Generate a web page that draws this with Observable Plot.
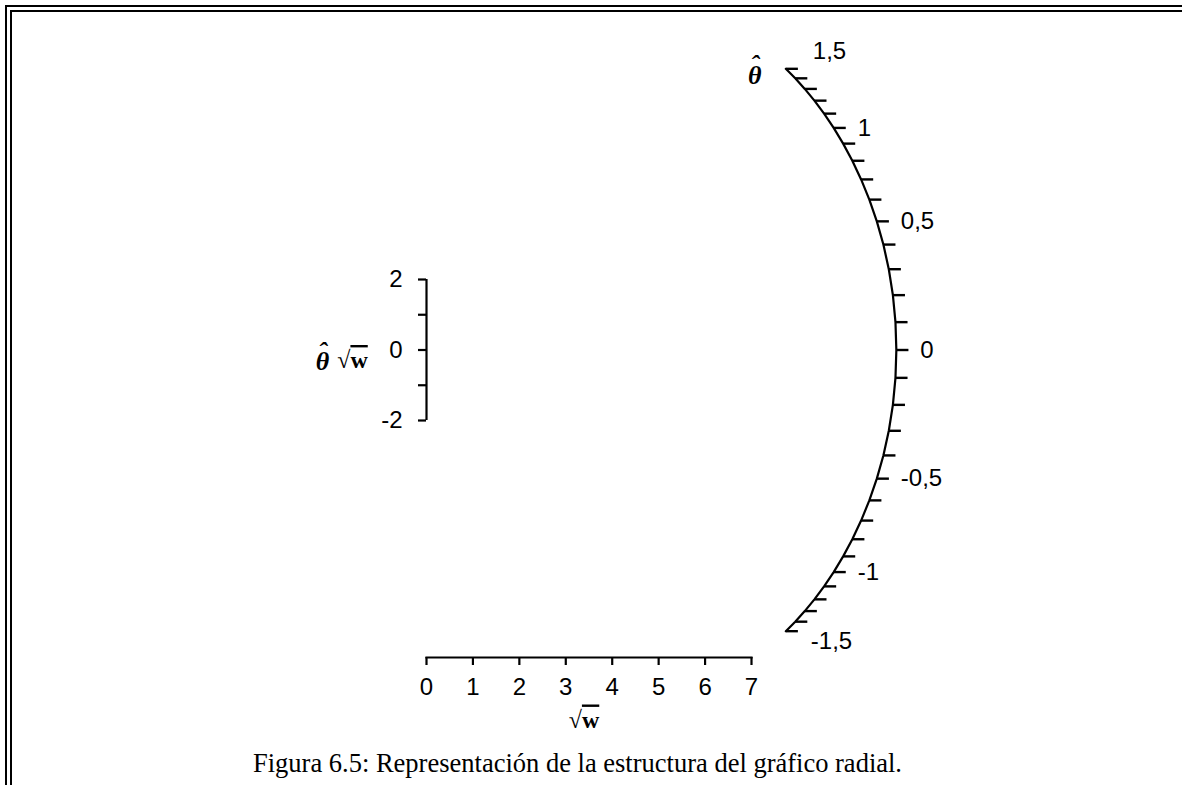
<!DOCTYPE html>
<html>
<head>
<meta charset="utf-8">
<script src="https://cdn.jsdelivr.net/npm/d3@7"></script>
<script src="https://cdn.jsdelivr.net/npm/@observablehq/plot@0.6"></script>
<style>
  html, body { margin: 0; padding: 0; background: #fff; }
  body { width: 1182px; height: 785px; position: relative; overflow: hidden; color: #000; }
  #border { position: absolute; left: 5px; top: 5px; width: 1300px; height: 900px;
            border-top: 7px double #000; border-left: 7px double #000; }
  #chart { position: absolute; left: 0; top: 0; }
  #caption { position: absolute; left: 0; top: 750px; width: 1155px; text-align: center;
             font-family: "Liberation Serif", "Times New Roman", serif; font-size: 26.5px;
             line-height: 26.5px; white-space: nowrap; }
</style>
</head>
<body>
<div id="border"></div>
<div id="chart"></div>
<div id="caption"></div>
<script>
// Horizontal axis: precision √w
const sqrtWTicks = [0, 1, 2, 3, 4, 5, 6, 7];
// Vertical axis: standardised estimate θ̂·√w
const zTicks = [-2, -1, 0, 1, 2];
const zLabels = [-2, 0, 2];
// Radial scale of the estimate θ̂ (labelled and minor ticks)
const thetaMajor = [-1.5, -1, -0.5, 0, 0.5, 1, 1.5];
const thetaMinor = [-1.5, -1.4, -1.3, -1.2, -1.1, -1, -0.9, -0.8, -0.7, -0.6, -0.5, -0.4, -0.3, -0.2, -0.1,
                    0, 0.1, 0.2, 0.3, 0.4, 0.5, 0.6, 0.7, 0.8, 0.9, 1, 1.1, 1.2, 1.3, 1.4, 1.5];
const captionText = "Figura 6.5: Representación de la estructura del gráfico radial.";

// Geometry of the θ̂ arc, expressed in √w units
const arcRadius = 10.12;   // distance of the arc from the origin
const arcShrink = 0.13;    // slight pull-in of the arc towards its ends
const arcGain = 0.6;       // slope of the ray per unit of θ̂
const arcDamp = 0.1;       // compression of the ray slope for large |θ̂|
const yPerX = 1.317;       // screen length of one √w unit over one θ̂√w unit
const tickLen = 0.26;      // length of the arc ticks, √w units

function arcPoint(t) {
  const phi = Math.atan(arcGain * t / (1 + arcDamp * Math.abs(t)));
  const r = arcRadius - arcShrink * t * t;
  return {theta: t, x: r * Math.cos(phi), y: r * Math.sin(phi) * yPerX};
}
const arcPts = thetaMinor.map(arcPoint);
const fmtTheta = t => String(t).replace(".", ",");
const midLabels = thetaMajor.filter(t => Math.abs(t) < 1.5).map(arcPoint);
const topLabel = [arcPoint(thetaMajor[thetaMajor.length - 1])];
const bottomLabel = [arcPoint(thetaMajor[0])];

const sans = "'Liberation Sans', Arial, Helvetica, sans-serif";
const serif = "'Liberation Serif', 'Times New Roman', serif";
const tickFont = 24;
const thetaHat = "ˆ\nθ";   // circumflex stacked over theta

const plot = Plot.plot({
  width: 1182,
  height: 745,
  marginLeft: 426,
  marginRight: 431,
  marginTop: 20,
  marginBottom: 88,
  x: {domain: [0, 7]},
  y: {domain: [-2, 2], range: [420, 279]},
  style: {fontFamily: sans, fontSize: tickFont + "px", color: "#000", background: "transparent", overflow: "visible"},
  marks: [
    // √w axis
    Plot.frame({anchor: "bottom", strokeWidth: 2.2}),
    Plot.axisX({ticks: sqrtWTicks, tickSize: 8, tickPadding: 12, strokeWidth: 2.2,
                fontSize: tickFont, label: null, tickFormat: d => String(d)}),
    // θ̂√w axis
    Plot.ruleX([0], {y1: -2, y2: 2, strokeWidth: 2.2}),
    Plot.axisY({ticks: zTicks, tickSize: 8, tickPadding: 16, strokeWidth: 2.2, fontSize: tickFont,
                label: null, tickFormat: d => zLabels.includes(d) ? String(d) : ""}),
    // θ̂ arc and its ticks
    Plot.line(arcPts, {x: "x", y: "y", strokeWidth: 2.2, curve: "linear"}),
    Plot.link(arcPts, {x1: "x", y1: "y", x2: d => d.x + tickLen, y2: "y", strokeWidth: 2.4}),
    Plot.text(midLabels, {x: "x", y: "y", text: d => fmtTheta(d.theta), dx: 24, textAnchor: "start", fontSize: tickFont}),
    Plot.text(topLabel, {x: "x", y: "y", text: d => fmtTheta(d.theta), dx: 27, dy: -18, textAnchor: "start", fontSize: tickFont}),
    Plot.text(bottomLabel, {x: "x", y: "y", text: d => fmtTheta(d.theta), dx: 25, dy: 10, textAnchor: "start", fontSize: tickFont}),
    // θ̂ title at the upper end of the arc
    Plot.text(topLabel, {x: "x", y: "y", text: () => thetaHat, dx: -31, dy: 15, lineAnchor: "bottom",
                         lineHeight: 0.4, textAnchor: "middle", fontFamily: serif,
                         fontWeight: "bold", fontStyle: "italic", fontSize: 26}),
    // θ̂√w title
    Plot.text([0], {frameAnchor: "left", y: d => d, text: () => thetaHat, dx: -104, dy: 20, lineAnchor: "bottom",
                    lineHeight: 0.4, textAnchor: "middle", fontFamily: serif,
                    fontWeight: "bold", fontStyle: "italic", fontSize: 26}),
    Plot.text([0], {frameAnchor: "left", y: d => d, text: () => "√w", dx: -74, dy: 18, lineAnchor: "bottom",
                    textAnchor: "middle", fontFamily: serif, fontSize: 24}),
    // √w title
    Plot.text([0], {frameAnchor: "bottom", text: () => "√w", dx: -5, dy: 70, lineAnchor: "bottom",
                    textAnchor: "middle", fontFamily: serif, fontSize: 24})
  ]
});

// Radical signs: bold w under an overline
d3.select(plot).selectAll("text").filter(function() { return this.textContent === "√w"; })
  .each(function() {
    const t = d3.select(this);
    t.text(null);
    t.append("tspan").text("√");
    t.append("tspan").attr("font-weight", "bold").style("text-decoration", "overline").text("w");
  });

document.getElementById("chart").appendChild(plot);
document.getElementById("caption").textContent = captionText;
</script>
</body>
</html>
